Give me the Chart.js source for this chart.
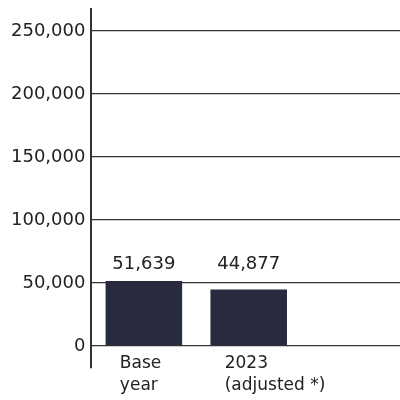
<!DOCTYPE html>
<html>
<head>
<meta charset="utf-8">
<script src="https://cdn.jsdelivr.net/npm/chart.js@4/dist/chart.umd.min.js"></script>
<style>
  html, body { margin: 0; padding: 0; overflow: hidden; background: #fff; }
  #wrap { width: 408px; height: 400px; position: relative; }
</style>
</head>
<body>
<div id="wrap"><canvas id="c"></canvas></div>
<script>
const categories = [["Base", "year"], ["2023", "(adjusted *)"], ""];
const values = [51639, 44877, null];
const yTicks = [0, 50000, 100000, 150000, 200000, 250000];
const yMin = -17500;
const yMax = 267500;

const FONT = "'DejaVu Sans', sans-serif";
const TEXT = "#222222";

const valueLabels = {
  id: "valueLabels",
  afterDatasetsDraw(chart) {
    const ctx = chart.ctx;
    const ys = chart.scales.y;
    const xs = chart.scales.x;
    const shown = values.filter(v => v !== null);
    const base = ys.getPixelForValue(Math.max(...shown)) - 12;
    const meta = chart.getDatasetMeta(0);
    ctx.save();
    ctx.font = "18px " + FONT;
    ctx.fillStyle = TEXT;
    ctx.textAlign = "center";
    ctx.textBaseline = "alphabetic";
    meta.data.forEach((bar, i) => {
      const v = values[i];
      if (v === null) return;
      ctx.fillText(v.toLocaleString("en-US"), bar.x, base);
    });
    // category labels, left-aligned, placed just under the zero line
    ctx.font = "17px " + FONT;
    ctx.textAlign = "left";
    ctx.textBaseline = "middle";
    const y0 = ys.getPixelForValue(0) + 18;
    categories.forEach((lab, i) => {
      const lines = Array.isArray(lab) ? lab : [lab];
      const x = xs.getPixelForValue(i) - 24;
      lines.forEach((t, j) => ctx.fillText(t, x, y0 + j * 22));
    });
    ctx.restore();
  }
};

new Chart(document.getElementById("c"), {
  type: "bar",
  data: {
    labels: categories,
    datasets: [{
      data: values,
      backgroundColor: "#282a3e",
      borderWidth: 0,
      barPercentage: 0.73,
      categoryPercentage: 1.0
    }]
  },
  options: {
    responsive: true,
    maintainAspectRatio: false,
    animation: false,
    layout: { padding: { left: 5, right: 2, top: 9, bottom: 32 } },
    plugins: { legend: { display: false }, tooltip: { enabled: false } },
    scales: {
      x: {
        offset: true,
        display: false,
        grid: { display: false }
      },
      y: {
        min: yMin,
        max: yMax,
        afterBuildTicks(scale) {
          scale.ticks = yTicks.map(v => ({ value: v }));
        },
        grid: { color: "#333333", lineWidth: 1.2, drawTicks: false },
        border: { display: true, color: "#333333", width: 2 },
        ticks: {
          padding: 6,
          color: TEXT,
          font: { family: FONT, size: 18, lineHeight: 0.2 },
          callback: v => v.toLocaleString("en-US")
        }
      }
    }
  },
  plugins: [valueLabels]
});
</script>
</body>
</html>
